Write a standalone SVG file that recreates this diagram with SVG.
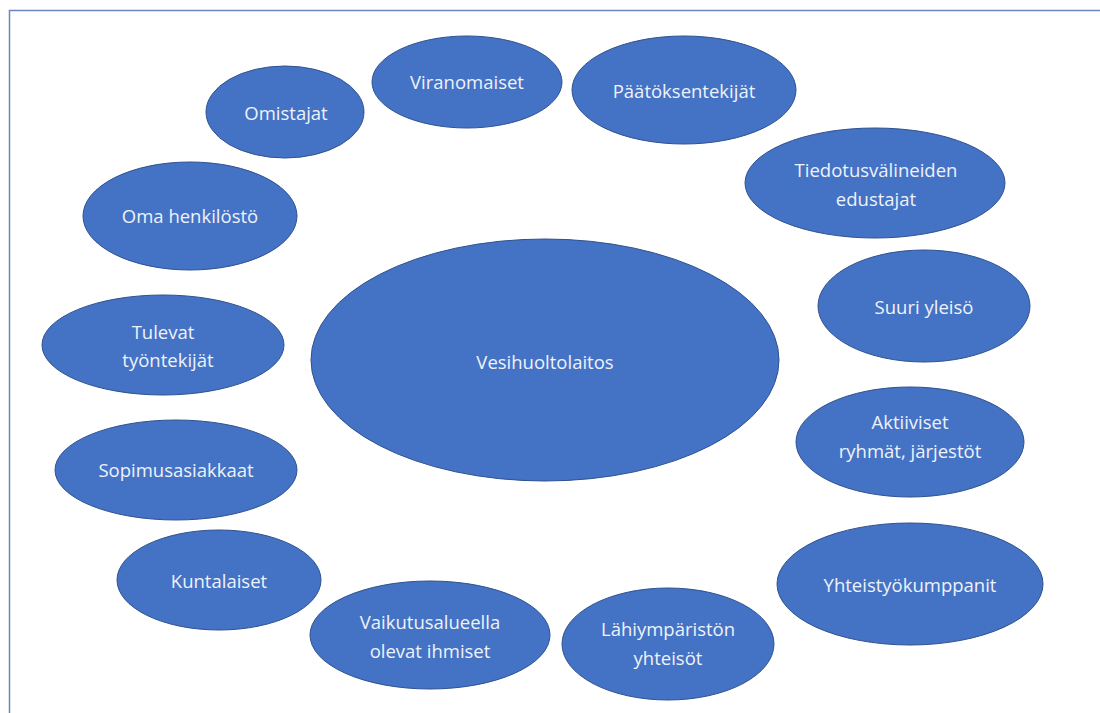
<svg xmlns="http://www.w3.org/2000/svg" width="1100" height="713" viewBox="0 0 1100 713">
<style>
.n ellipse{fill:#4472C4;stroke:#2F528F;stroke-width:1}
.n text{fill:#EEF2FA;font-family:"Open Sans","Liberation Sans",sans-serif;font-size:18.5px;text-anchor:middle;dominant-baseline:central}
</style>
<rect width="1100" height="713" fill="#fff"/>
<path d="M9.5 713 V10.5 H1100" fill="none" stroke="#6A86C0" stroke-width="1.5"/>
<g id="connectors"/>
<g id="vesihuoltolaitos" class="n"><ellipse cx="545" cy="360" rx="234" ry="121"/><text x="545" y="361">Vesihuoltolaitos</text></g>
<g id="omistajat" class="n"><ellipse cx="285" cy="112" rx="79" ry="46"/><text x="286" y="112">Omistajat</text></g>
<g id="viranomaiset" class="n"><ellipse cx="467" cy="82" rx="95" ry="46"/><text x="467" y="81">Viranomaiset</text></g>
<g id="paatoksentekijat" class="n"><ellipse cx="684" cy="90" rx="112" ry="54"/><text x="684" y="90">Päätöksentekijät</text></g>
<g id="tiedotusvalineiden" class="n"><ellipse cx="875" cy="183" rx="130" ry="55"/><text x="876" y="169">Tiedotusvälineiden</text><text x="876" y="198">edustajat</text></g>
<g id="suuri-yleiso" class="n"><ellipse cx="924" cy="306" rx="106" ry="56"/><text x="924" y="306">Suuri yleisö</text></g>
<g id="aktiiviset" class="n"><ellipse cx="910" cy="442" rx="114" ry="55"/><text x="910" y="421">Aktiiviset</text><text x="910" y="450">ryhmät, järjestöt</text></g>
<g id="yhteistyokumppanit" class="n"><ellipse cx="910" cy="584" rx="133" ry="61"/><text x="910" y="584">Yhteistyökumppanit</text></g>
<g id="lahiympariston" class="n"><ellipse cx="668" cy="644" rx="106" ry="56"/><text x="668" y="628">Lähiympäristön</text><text x="668" y="657">yhteisöt</text></g>
<g id="vaikutusalueella" class="n"><ellipse cx="430" cy="635" rx="120" ry="54"/><text x="430" y="621">Vaikutusalueella</text><text x="430" y="650">olevat ihmiset</text></g>
<g id="kuntalaiset" class="n"><ellipse cx="219" cy="580" rx="102" ry="50"/><text x="219" y="580">Kuntalaiset</text></g>
<g id="sopimusasiakkaat" class="n"><ellipse cx="176" cy="470" rx="121" ry="50"/><text x="176" y="469">Sopimusasiakkaat</text></g>
<g id="tulevat" class="n"><ellipse cx="163" cy="345" rx="121" ry="50"/><text x="163" y="331">Tulevat</text><text x="168" y="359">työntekijät</text></g>
<g id="oma-henkilosto" class="n"><ellipse cx="190" cy="216" rx="107" ry="54"/><text x="190" y="215">Oma henkilöstö</text></g>
</svg>
